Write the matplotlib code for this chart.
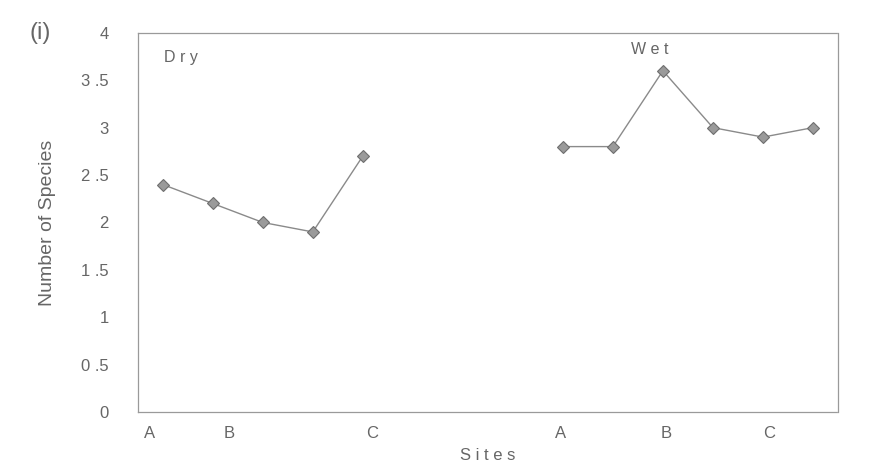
import matplotlib
matplotlib.use("Agg")
import matplotlib.pyplot as plt

plt.rcParams['font.family'] = ['Liberation Sans', 'DejaVu Sans']

# Data
dry_pos = [1, 2, 3, 4, 5]
dry_vals = [2.4, 2.2, 2.0, 1.9, 2.7]
wet_pos = [9, 10, 11, 12, 13, 14]
wet_vals = [2.8, 2.8, 3.6, 3.0, 2.9, 3.0]
site_tick_pos = [0.74, 2.32, 5.18, 8.96, 11.06, 13.12]
site_tick_labels = ['A', 'B', 'C', 'A', 'B', 'C']
y_ticks = [0, 0.5, 1, 1.5, 2, 2.5, 3, 3.5, 4]
y_tick_labels = ['0', '0 .5', '1', '1 .5', '2', '2 .5', '3', '3 .5', '4']

txt = '#666666'

fig = plt.figure(figsize=(8.83, 4.62), dpi=100)
ax = fig.add_axes([0.156, 0.108, 0.793, 0.821])

style = dict(color='#8a8a8a', lw=1.0, marker='D', markersize=6.5,
             markerfacecolor='#9a9a9a', markeredgecolor='#6e6e6e', markeredgewidth=0.8)
ax.plot(dry_pos, dry_vals, **style)
ax.plot(wet_pos, wet_vals, **style)

ax.set_xlim(0.5, 14.5)
ax.set_ylim(0, 4)
ax.set_yticks(y_ticks)
ax.set_yticklabels(y_tick_labels)
ax.set_xticks(site_tick_pos)
ax.set_xticklabels(site_tick_labels)
ax.tick_params(axis='both', length=0, labelsize=12, labelcolor=txt)
ax.tick_params(axis='y', pad=21)
ax.tick_params(axis='x', pad=10)

for s in ax.spines.values():
    s.set_color('#9a9a9a')
    s.set_linewidth(0.9)
    s.set_linestyle((0, (6, 1)))

ax.set_xlabel('S i t e s', fontsize=12, color=txt, labelpad=5)
ax.set_ylabel('Number of Species', fontsize=14, color=txt, labelpad=18)

ax.text(0.038, 0.955, 'D r y', transform=ax.transAxes, fontsize=11.5, color=txt,
        ha='left', va='top')
ax.text(0.731, 0.975, 'W e t', transform=ax.transAxes, fontsize=11.5, color=txt,
        ha='center', va='top')
fig.text(0.045, 0.929, '(i)', fontsize=17, color=txt, ha='center', va='center')

fig.savefig('out.png', dpi=100, facecolor='white')
